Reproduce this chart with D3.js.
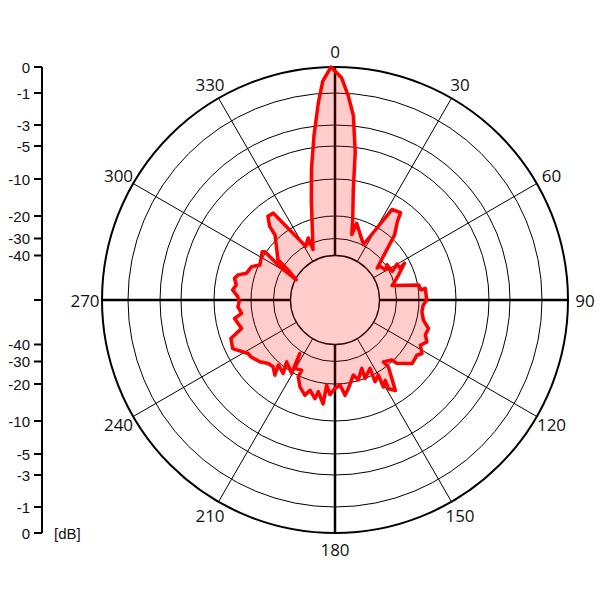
<!DOCTYPE html>
<html>
<head>
<meta charset="utf-8">
<script src="https://cdn.jsdelivr.net/npm/d3@7"></script>
<style>
  html, body { margin: 0; padding: 0; background: #fff; }
  svg text { font-family: "Open Sans", "Liberation Sans", Arial, sans-serif; fill: #111; }
  svg text.tl, svg text.unit { font-family: "Liberation Sans", Arial, sans-serif; }
</style>
</head>
<body>
<svg id="chart" width="600" height="600"></svg>
<script>
// ---- data ----
const dbTicks = [0, -1, -3, -5, -10, -20, -30, -40];
const angleLabels = [0, 30, 60, 90, 120, 150, 180, 210, 240, 270, 300, 330];
const unitLabel = "[dB]";

const patternAngle = [359, 1.7, 3.7, 5.7, 7.8, 9.5, 12.5, 14.4, 15.8, 22.1, 27.2, 32.2, 36.9, 38.5, 42.5, 47,
  52.8, 53.5, 59, 55.9, 63.5, 59.9, 64, 62.1, 68.4, 74, 75.8, 79.8, 83.3, 82.6, 90, 93.2, 97.7, 102.8,
  106.9, 111.2, 114.5, 117.9, 121.6, 124, 129.5, 135.7, 136.6, 142, 141.4, 144.1, 146.3, 148.9, 148,
  150.9, 150, 153.9, 152.9, 159, 158.6, 163.8, 166.3, 171.4, 174, 176.6, 180, 183, 185.6, 186.5, 190.3,
  191.5, 195.5, 197.5, 202, 205.6, 205.4, 210.4, 213.3, 210.6, 218, 215.2, 221.1, 218.7, 222.8, 226.5,
  230.6, 235.8, 238.4, 244.6, 249.7, 251.3, 253.1, 256.5, 259.6, 261.9, 266, 269, 272, 275.6, 278.7,
  282.2, 284.5, 286.8, 291.8, 295, 303.6, 304.6, 301.2, 297.6, 302.7, 305.2, 317.3, 318.4, 321.3, 324.6,
  331.4, 336.6, 336.5, 346.5, 349.8, 352.7, 355.2, 356.8];
const patternDb = [0, -0.41, -1.14, -2.36, -5.76, -12.8, -20.9, -27.3, -21.9, -26.8, -29.6, -13.8, -13.2, -15.6, -18.9, -27.1,
  -35, -32.9, -31.6, -29.4, -28.9, -25.5, -25.1, -22.4, -26.9, -30.2, -31.5, -19.7, -19.3, -18.1, -17.9, -18.8, -19.0, -18.2,
  -16.3, -16.5, -15.4, -16.6, -15.1, -16.0, -15.7, -18.8, -20.6, -22.4, -19.6, -16.5, -13.3, -14.7, -17.1,
  -15.8, -19.3, -18.1, -23.2, -20.0, -24.7, -20.3, -23.0, -18.5, -16.8, -19.7, -18.8, -17.1, -19.6, -14.4, -17.5,
  -15.5, -17.4, -15.7, -17.4, -19.7, -22.8, -22.1, -28.8, -19.7, -22.4, -18.4, -19.4, -16.7, -18.1, -17.8,
  -16.4, -15.3, -15.1, -12.1, -12.7, -14.5, -16.3, -15.7, -15.1, -17.2, -16.4, -16.8, -16.4, -14.9, -15.7,
  -14.9, -15.6, -17.7, -18.4, -20.5, -19.1, -19.7, -28.6, -40.5, -33.2, -26.3, -18.8, -16.1, -13.7, -13.9,
  -30.2, -27.3, -33.8, -15.3, -8.2, -3.9, -1.54, -0.53];

// ---- layout ----
const svg = d3.select("#chart");
const cx = 335, cy = 300;

// radial (dB) scale - non-linear grid
const r = d3.scaleLinear()
  .domain([-40, -30, -20, -10, -5, -3, -1, 0])
  .range([44.5, 61.5, 84, 121, 154, 175, 207, 233]);

const g = svg.append("g").attr("transform", `translate(${cx},${cy})`);
const rad = a => a * Math.PI / 180;

// grid circles
g.selectAll("circle.grid").data(dbTicks).join("circle")
  .attr("class", "grid")
  .attr("r", d => r(d))
  .attr("fill", "none")
  .attr("stroke", "#000")
  .attr("stroke-width", d => d === 0 ? 2 : (d === -40 ? 1.3 : 1));

// spokes
const rInner = r(-40);
g.selectAll("line.spoke").data(angleLabels).join("line")
  .attr("class", "spoke")
  .attr("x1", d => rInner * Math.sin(rad(d)))
  .attr("y1", d => -rInner * Math.cos(rad(d)))
  .attr("x2", d => r(0) * Math.sin(rad(d)))
  .attr("y2", d => -r(0) * Math.cos(rad(d)))
  .attr("stroke", "#000")
  .attr("stroke-width", d => d % 90 === 0 ? 2.5 : 1);

// angle labels
g.selectAll("text.ang").data(angleLabels).join("text")
  .attr("class", "ang")
  .attr("x", d => 250 * Math.sin(rad(d)))
  .attr("y", d => -249 * Math.cos(rad(d)))
  .attr("text-anchor", "middle")
  .attr("dominant-baseline", "central")
  .attr("font-size", 17)
  .text(d => d);

// pattern
const pts = patternAngle.map((a, i) => ({ a, db: patternDb[i] }));
const line = d3.lineRadial()
  .angle(d => rad(d.a))
  .radius(d => r(d.db))
  .curve(d3.curveLinearClosed);

g.append("path")
  .datum(pts)
  .attr("d", line)
  .attr("fill", "rgba(255,0,0,0.2)")
  .attr("stroke", "#ff0000")
  .attr("stroke-width", 3.5)
  .attr("stroke-linejoin", "round");

// left dB axis (mirrored above and below centre)
const axisX = 42;
const yTop = d => cy - r(d);
const yBot = d => cy + r(d);
const ax = svg.append("g");
ax.append("line")
  .attr("x1", axisX).attr("x2", axisX)
  .attr("y1", yTop(0)).attr("y2", yBot(0))
  .attr("stroke", "#000").attr("stroke-width", 2);

const tickData = dbTicks.map(d => ({ d, y: yTop(d) })).concat(dbTicks.map(d => ({ d, y: yBot(d) })));
ax.selectAll("line.tk").data(tickData.concat([{ d: null, y: cy }])).join("line")
  .attr("class", "tk")
  .attr("x1", axisX - 8).attr("x2", axisX)
  .attr("y1", d => d.y).attr("y2", d => d.y)
  .attr("stroke", "#000").attr("stroke-width", 2);

ax.selectAll("text.tl").data(tickData).join("text")
  .attr("class", "tl")
  .attr("x", axisX - 12)
  .attr("y", d => d.y)
  .attr("text-anchor", "end")
  .attr("dominant-baseline", "central")
  .attr("font-size", 15)
  .text(d => d.d);

ax.append("text")
  .attr("class", "unit")
  .attr("x", axisX + 12)
  .attr("y", yBot(0))
  .attr("dominant-baseline", "central")
  .attr("font-size", 15)
  .text(unitLabel);
</script>
</body>
</html>
